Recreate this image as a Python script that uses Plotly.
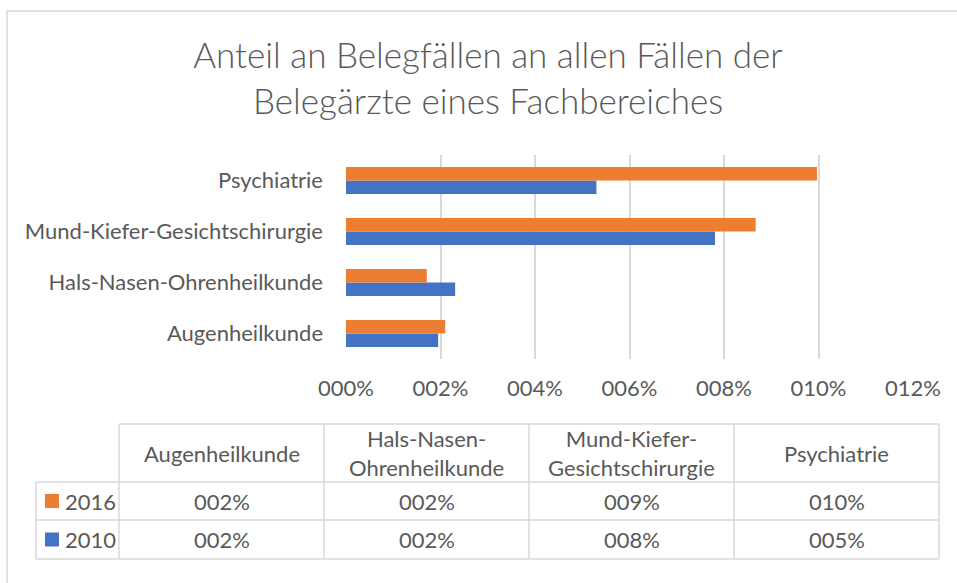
import plotly.graph_objects as go

# ---- data ----
categories = ["Augenheilkunde", "Hals-Nasen-Ohrenheilkunde", "Mund-Kiefer-Gesichtschirurgie", "Psychiatrie"]
table_headers = ["Augenheilkunde", "Hals-Nasen-<br>Ohrenheilkunde", "Mund-Kiefer-<br>Gesichtschirurgie", "Psychiatrie"]
series_names = ["2016", "2010"]
values_2016 = [0.0210, 0.0171, 0.0867, 0.0997]
values_2010 = [0.0195, 0.0231, 0.0781, 0.0530]
tick_values = [0.0, 0.02, 0.04, 0.06, 0.08, 0.10, 0.12]
tick_labels = ["000%", "002%", "004%", "006%", "008%", "010%", "012%"]

ORANGE = "#ED7D31"
BLUE = "#4472C4"
TEXT = "#595959"
GRID = "#D9D9D9"
FONT = "Lato"

W, H = 957, 583
L, R, T, B = 346, 913, 155, 359  # plot area in pixels


def px(x):
    return (x - L) / (R - L)


def py(y):
    return (B - y) / (B - T)


fig = go.Figure()
fig.add_trace(go.Bar(y=categories, x=values_2010, name=series_names[1], orientation="h",
                     marker=dict(color=BLUE, line=dict(width=0))))
fig.add_trace(go.Bar(y=categories, x=values_2016, name=series_names[0], orientation="h",
                     marker=dict(color=ORANGE, line=dict(width=0))))

shapes = []
annotations = []

# outer chart border (left & top visible)
shapes.append(dict(type="rect", xref="paper", yref="paper", x0=px(7), x1=px(990), y0=py(11), y1=py(620),
                   line=dict(color=GRID, width=1.5), fillcolor="rgba(0,0,0,0)", layer="below"))

# data table
col_x = [119, 324, 529, 734, 939]
row_y = [424, 482, 520, 559]
leg_x0 = 36


def hline(y, x0, x1):
    shapes.append(dict(type="line", xref="paper", yref="paper", x0=px(x0), x1=px(x1), y0=py(y), y1=py(y),
                       line=dict(color=GRID, width=1.5)))


def vline(x, y0, y1):
    shapes.append(dict(type="line", xref="paper", yref="paper", x0=px(x), x1=px(x), y0=py(y0), y1=py(y1),
                       line=dict(color=GRID, width=1.5)))


hline(row_y[0], col_x[0], col_x[-1])
for y in row_y[1:]:
    hline(y, leg_x0, col_x[-1])
vline(leg_x0, row_y[1], row_y[-1])
for x in col_x:
    vline(x, row_y[0], row_y[-1])

fs = 22
for i, h in enumerate(table_headers):
    cx = (col_x[i] + col_x[i + 1]) / 2
    cy = (row_y[0] + row_y[1]) / 2
    annotations.append(dict(x=px(cx), y=py(cy), xref="paper", yref="paper", text=h, showarrow=False,
                            xanchor="center", yanchor="middle", font=dict(family=FONT, size=fs, color=TEXT)))

rows = [(series_names[0], values_2016, ORANGE), (series_names[1], values_2010, BLUE)]
for r, (name, vals, col) in enumerate(rows):
    cy = (row_y[r + 1] + row_y[r + 2]) / 2
    shapes.append(dict(type="rect", xref="paper", yref="paper", x0=px(45), x1=px(59), y0=py(cy - 7), y1=py(cy + 7),
                       line=dict(width=0), fillcolor=col))
    annotations.append(dict(x=px(63), y=py(cy), xref="paper", yref="paper", text=name, showarrow=False,
                            xanchor="left", yanchor="middle", font=dict(family=FONT, size=fs, color=TEXT)))
    for i, v in enumerate(vals):
        cx = (col_x[i] + col_x[i + 1]) / 2
        annotations.append(dict(x=px(cx), y=py(cy), xref="paper", yref="paper", text=f"{v * 100:03.0f}%",
                                showarrow=False, xanchor="center", yanchor="middle",
                                font=dict(family=FONT, size=fs, color=TEXT)))

fig.update_layout(
    width=W, height=H,
    margin=dict(l=L, r=W - R, t=T, b=H - B, pad=0),
    paper_bgcolor="white", plot_bgcolor="white",
    barmode="group", bargap=0.47, bargroupgap=0,
    showlegend=False,
    title=dict(text="Anteil an Belegfällen an allen Fällen der<br>Belegärzte eines Fachbereiches",
               x=488 / W, xanchor="center", xref="container",
               y=1 - 68 / H, yanchor="middle", yref="container",
               font=dict(family=FONT, size=35, color=TEXT, weight=300)),
    xaxis=dict(range=[0, 0.12], tickvals=tick_values, ticktext=tick_labels,
               showgrid=True, gridcolor=GRID, gridwidth=1.5, zeroline=False, showline=False,
               ticks="", ticklabelstandoff=14, tickfont=dict(family=FONT, size=fs, color=TEXT)),
    yaxis=dict(categoryorder="array", categoryarray=categories, showgrid=False, zeroline=False,
               showline=False, ticks="", ticklabelstandoff=22,
               tickfont=dict(family=FONT, size=fs, color=TEXT)),
    shapes=shapes,
    annotations=annotations,
)

fig.write_html("out.html", config={"displayModeBar": False},
               post_script="document.body.style.margin='0';document.body.style.overflow='hidden';")
